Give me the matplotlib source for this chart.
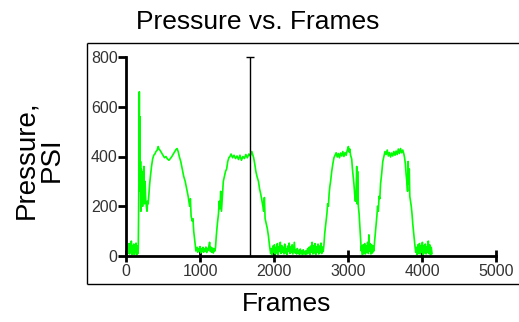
import matplotlib
matplotlib.use("Agg")
import matplotlib.pyplot as plt
from matplotlib.lines import Line2D

plt.rcParams["font.family"] = ["Liberation Sans", "DejaVu Sans"]

# pressure trace (frame, psi)
frames = [
    0, 8, 16, 24, 32, 40, 48, 56, 64, 72, 80, 88, 96, 104, 112, 120, 128, 136, 144, 152, 160, 166,
    170, 175, 180, 184, 188, 192, 197, 202, 207, 212, 218, 224, 230, 236, 242, 250, 258, 266, 275,
    284, 292, 300, 310, 320, 330, 345, 360, 375, 390, 405, 420, 435, 445, 460, 480, 500, 520, 540,
    560, 580, 600, 620, 640, 660, 675, 690, 705, 720, 740, 760, 780, 800, 820, 840, 860, 870, 880,
    895, 905, 915, 930, 945,
    960, 970, 980, 990, 1000, 1010, 1020, 1030, 1040, 1050, 1060, 1070, 1080, 1090, 1100, 1110,
    1120, 1130, 1140, 1150, 1160, 1170, 1180, 1190, 1200, 1210,
    1220, 1235, 1250, 1260, 1270, 1280, 1290, 1300, 1315, 1330, 1345, 1360, 1375, 1390, 1405, 1420,
    1440, 1460, 1480, 1500, 1520, 1540, 1560, 1580, 1600, 1620, 1640, 1660, 1680, 1700, 1710, 1725,
    1740, 1755, 1770, 1790, 1805, 1820, 1835, 1850, 1860, 1870, 1880, 1895, 1910, 1925, 1940, 1955,
    1965, 1975, 1985, 1995, 2005, 2015, 2025, 2035, 2045, 2055, 2065, 2075, 2085, 2095, 2105, 2115,
    2125, 2135, 2145, 2155, 2165, 2175, 2185, 2195, 2205, 2215, 2225, 2235, 2245, 2255, 2265, 2275,
    2285, 2295, 2305, 2315, 2325, 2335, 2345, 2355, 2365, 2375, 2385, 2395, 2405, 2415, 2425, 2435,
    2445, 2455, 2465, 2475, 2485, 2495, 2505, 2515, 2525, 2535, 2545, 2555, 2565, 2575, 2585, 2595,
    2605, 2615, 2625, 2635, 2645, 2655, 2665, 2675,
    2685, 2700, 2715, 2725, 2735, 2745, 2755, 2765, 2780, 2795, 2810, 2825, 2840, 2855, 2870, 2885,
    2900, 2915, 2930, 2945, 2960, 2975, 2990, 3005, 3015, 3025, 3035, 3050, 3060, 3070, 3080, 3090,
    3100, 3110, 3118, 3124, 3130, 3140, 3150, 3160, 3170, 3180,
    3185, 3195, 3205, 3215, 3225, 3235, 3245, 3255, 3265, 3275, 3282, 3290, 3300, 3310, 3320, 3330,
    3340, 3350,
    3360, 3375, 3390, 3400, 3410, 3420, 3430, 3440, 3455, 3470, 3485, 3500, 3515, 3530, 3545, 3560,
    3575, 3590, 3605, 3620, 3635, 3650, 3665, 3680, 3695, 3710, 3725, 3740, 3755, 3765, 3775, 3785,
    3795, 3805, 3813, 3820, 3828, 3835, 3845, 3855, 3865, 3875, 3885, 3895, 3905, 3915,
    3925, 3935, 3945, 3955, 3965, 3975, 3985, 3995, 4005, 4015, 4025, 4035, 4045, 4055, 4065, 4075,
    4085, 4095, 4105, 4115, 4125, 4135,
]
psi = [
    10, 45, 5, 38, 12, 50, 8, 35, 15, 60, 5, 40, 10, 48, 6, 36, 14, 52, 4, 40, 10, 30,
    150, 330, 660, 300, 560, 260, 380, 180, 350, 230, 330, 200, 340, 250, 360, 210, 300, 230, 200,
    180, 220, 210, 250, 290, 320, 360, 390, 405, 410, 420, 425, 440, 430, 425, 415, 405, 395, 400,
    390, 385, 392, 400, 410, 420, 428, 432, 420, 400, 380, 350, 320, 300, 270, 240, 200, 230, 160,
    140, 150, 100, 60, 20,
    35, 15, 30, 20, 38, 12, 30, 18, 35, 15, 28, 20, 36, 14, 30, 22,
    40, 55, 18, 35, 15, 32, 12, 28, 20, 35,
    80, 130, 170, 220, 190, 260, 180, 230, 300, 320, 340, 350, 380, 395, 400, 410,
    395, 405, 392, 402, 388, 405, 385, 400, 392, 408, 395, 410, 402, 420, 410, 395,
    370, 340, 320, 300, 270, 250, 225, 200, 180, 235, 150, 130, 110, 80, 40, 10,
    30, 5, 40, 15, 45, 8, 35, 12, 50, 5, 38, 18, 55, 10, 42, 15,
    35, 8, 48, 12, 30, 5, 40, 18, 52, 10, 36, 14, 45, 8, 30, 55,
    12, 25, 8, 30, 12, 22, 6, 28, 10, 20, 5, 25, 10, 18, 6, 22,
    8, 30, 12, 35, 5, 40, 15, 55, 8, 42, 12, 50, 6, 38, 15, 48,
    8, 40, 14, 52, 10, 36, 18, 45,
    90, 130, 170, 210, 200, 250, 280, 300, 340, 370, 395, 405, 415, 398, 412, 395,
    414, 402, 420, 400, 416, 405, 425, 440, 418, 430, 405, 390, 350, 320, 290, 250,
    220, 260, 360, 210, 340, 200, 170, 120, 70, 20,
    40, 5, 45, 10, 50, 8, 40, 15, 55, 10, 85, 20, 50, 8, 45, 12,
    40, 20,
    60, 110, 160, 200, 180, 240, 230, 290, 330, 380, 400, 420, 408, 426, 402, 416,
    398, 414, 402, 420, 405, 422, 408, 430, 412, 432, 415, 426, 410, 395, 370, 330,
    300, 260, 380, 290, 350, 240, 220, 200, 170, 130, 100, 70, 40, 15,
    35, 5, 45, 10, 50, 8, 40, 15, 55, 6, 42, 12, 48, 8, 38, 14,
    60, 10, 45, 5, 35, 10,
]

marker_frame = 1680
marker_top = 800
x_ticks = [0, 1000, 2000, 3000, 4000, 5000]
y_ticks = [0, 200, 400, 600, 800]

W, H = 519, 322
fig = plt.figure(figsize=(W / 100, H / 100), dpi=100)
fig.patch.set_facecolor("white")
fig.patch.set_linewidth(0)

# outer frame: left, top and bottom edges only, it runs off the right side
bx0, bx1 = 87 / W, 1.01
by0, by1 = 1 - 284 / H, 1 - 43 / H
for xs, ys in [([bx0, bx0], [by0, by1]), ([bx0, bx1], [by1, by1]), ([bx0, bx1], [by0, by0])]:
    fig.lines.append(Line2D(xs, ys, transform=fig.transFigure, color="black",
                            linewidth=1.0, solid_capstyle="butt"))

ax = fig.add_axes([126 / W, 1 - 256 / H, 370 / W, 199 / H])
ax.set_facecolor("none")

ax.plot(frames, psi, color="#00ff00", linewidth=1.2, zorder=2)
ax.plot([marker_frame, marker_frame], [0, marker_top], color="black", linewidth=1.0, zorder=3)
ax.plot([marker_frame], [marker_top], marker="_", markersize=6, color="black",
        markeredgewidth=1.0, zorder=3, clip_on=False)

ax.set_xlim(0, 5000)
ax.set_ylim(0, 800)
ax.set_xticks(x_ticks)
ax.set_yticks(y_ticks)

for side in ["top", "right"]:
    ax.spines[side].set_visible(False)
for side in ["left", "bottom"]:
    ax.spines[side].set_linewidth(2.0)
    ax.spines[side].set_zorder(4)

ax.tick_params(axis="x", direction="inout", length=9, width=2.0, pad=1,
               labelsize=11.5, labelcolor="#333333")
ax.tick_params(axis="y", direction="out", length=6, width=2.0, pad=0,
               labelsize=11.5, labelcolor="#333333")

fig.text(258 / W, 1 - 22 / H, "Pressure vs. Frames", ha="center", va="center", fontsize=19)
fig.text(287 / W, 1 - 304 / H, "Frames", ha="center", va="center", fontsize=19)
fig.text(39 / W, 1 - 160 / H, "Pressure,\nPSI", ha="center", va="center",
         rotation=90, fontsize=20, linespacing=1.0, multialignment="center")

fig.savefig("out.png", dpi=100, facecolor="white", edgecolor="none")
